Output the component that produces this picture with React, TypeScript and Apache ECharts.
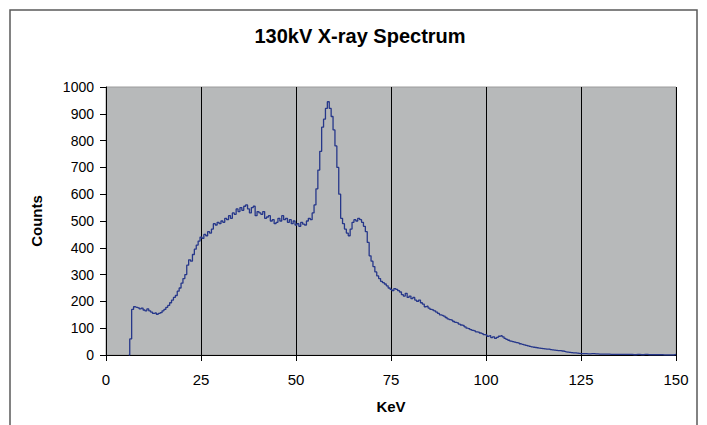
import React, { useEffect, useRef } from "react";
import * as echarts from "echarts";

const TITLE = "130kV X-ray Spectrum";
const X_NAME = "KeV";
const Y_NAME = "Counts";

const keV: number[] = [
  6, 6.5, 7, 7.5, 8, 8.5, 9, 9.5, 10, 10.5, 11, 11.5, 12, 12.5, 13, 13.5, 14, 14.5, 15, 15.5,
  16, 16.5, 17, 17.5, 18, 18.5, 19, 19.5, 20, 20.5, 21, 21.5, 22, 22.5, 23, 23.5, 24, 24.5, 25, 25.5,
  26, 26.5, 27, 27.5, 28, 28.5, 29, 29.5, 30, 30.5, 31, 31.5, 32, 32.5, 33, 33.5, 34, 34.5, 35, 35.5,
  36, 36.5, 37, 37.5, 38, 38.5, 39, 39.5, 40, 40.5, 41, 41.5, 42, 42.5, 43, 43.5, 44, 44.5, 45, 45.5,
  46, 46.5, 47, 47.5, 48, 48.5, 49, 49.5, 50, 50.5, 51, 51.5, 52, 52.5, 53, 53.5, 54, 54.5, 55, 55.5,
  56, 56.5, 57, 57.5, 58, 58.5, 59, 59.5, 60, 60.5, 61, 61.5, 62, 62.5, 63, 63.5, 64, 64.5, 65, 65.5,
  66, 66.5, 67, 67.5, 68, 68.5, 69, 69.5, 70, 70.5, 71, 71.5, 72, 72.5, 73, 73.5, 74, 74.5, 75, 75.5,
  76, 76.5, 77, 77.5, 78, 78.5, 79, 79.5, 80, 80.5, 81, 81.5, 82, 82.5, 83, 83.5, 84, 84.5, 85, 85.5,
  86, 86.5, 87, 87.5, 88, 88.5, 89, 89.5, 90, 90.5, 91, 91.5, 92, 92.5, 93, 93.5, 94, 94.5, 95, 95.5,
  96, 96.5, 97, 97.5, 98, 98.5, 99, 99.5, 100, 100.5, 101, 101.5, 102, 102.5, 103, 103.5, 104, 104.5, 105, 105.5,
  106, 106.5, 107, 107.5, 108, 108.5, 109, 109.5, 110, 110.5, 111, 111.5, 112, 112.5, 113, 113.5, 114, 114.5, 115, 115.5,
  116, 116.5, 117, 117.5, 118, 118.5, 119, 119.5, 120, 120.5, 121, 121.5, 122, 122.5, 123, 123.5, 124, 124.5, 125, 126,
  127, 128, 129, 130, 131, 132, 133, 134, 135, 136, 137, 138, 139, 140, 141, 142, 143, 144, 145, 146,
  147, 148, 149, 150,
];

const counts: number[] = [
  0, 60, 170, 180, 178, 176, 172, 175, 168, 165, 172, 165, 160, 155, 157, 152, 155, 158, 165, 170,
  178, 185, 195, 205, 215, 222, 238, 250, 268, 285, 300, 335, 355, 350, 375, 395, 410, 425, 440, 435,
  450, 445, 460, 455, 470, 490, 485, 495, 490, 500, 495, 510, 505, 520, 510, 530, 525, 545, 535, 550,
  540, 555, 560, 545, 530, 550, 555, 520, 535, 530, 525, 535, 510, 515, 520, 500, 505, 490, 495, 510,
  500, 520, 505, 510, 495, 505, 490, 500, 485, 490, 480, 495, 488, 485, 500, 510, 505, 530, 560, 620,
  690, 760, 850, 880, 920, 945, 920, 890, 840, 780, 700, 600, 510, 490, 470, 455, 445, 470, 495, 505,
  500, 510, 505, 495, 480, 460, 420, 370, 350, 330, 310, 295, 285, 275, 270, 265, 258, 250, 245, 240,
  248, 245, 240, 235, 225, 220, 230, 215, 220, 210, 215, 205, 200, 205, 195, 190, 180, 182, 175, 170,
  168, 165, 160, 155, 150, 148, 145, 140, 135, 132, 130, 125, 122, 120, 115, 112, 110, 105, 100, 98,
  95, 92, 90, 86, 85, 82, 80, 76, 75, 70, 72, 65, 68, 62, 66, 70, 72, 68, 62, 58,
  55, 52, 50, 48, 46, 45, 42, 40, 38, 36, 34, 32, 30, 29, 28, 27, 26, 25, 24, 23,
  22, 22, 20, 19, 18, 17, 16, 16, 15, 14, 12, 11, 10, 9, 8, 8, 7, 6, 5, 5,
  4, 5, 4, 3, 3, 3, 2, 2, 2, 2, 2, 2, 1, 2, 1, 2, 1, 1, 1, 1,
  0, 0, 0, 2,
];

const FONT = "Arial, 'Liberation Sans', sans-serif";

export default function App() {
  const ref = useRef<HTMLDivElement>(null);

  useEffect(() => {
    if (!ref.current) return;
    const chart = echarts.init(ref.current, undefined, { renderer: "svg" });
    const data = keV.map((k, i) => [k, counts[i]]);
    chart.setOption({
      animation: false,
      backgroundColor: "#ffffff",
      title: {
        text: TITLE,
        left: 355,
        top: 21,
        textAlign: "center",
        textStyle: { fontFamily: FONT, fontSize: 20, fontWeight: "bold", color: "#000" },
      },
      graphic: [
        {
          type: "rect",
          shape: { x: 10, y: 10, width: 687, height: 440 },
          style: { fill: "none", stroke: "#5a5a5a", lineWidth: 1.5 },
          silent: true,
        },
      ],
      grid: {
        left: 106,
        right: 31,
        top: 87,
        bottom: 70,
        show: true,
        backgroundColor: "#B7B9BA",
        borderColor: "#9c9c9c",
        borderWidth: 1,
      },
      xAxis: {
        type: "value",
        min: 0,
        max: 150,
        interval: 25,
        name: X_NAME,
        nameLocation: "middle",
        nameGap: 44,
        nameTextStyle: { fontFamily: FONT, fontSize: 15, fontWeight: "bold", color: "#000" },
        axisLine: { show: true, lineStyle: { color: "#000", width: 1 } },
        axisTick: { show: true, inside: false, length: 6, lineStyle: { color: "#000" } },
        axisLabel: { fontFamily: FONT, fontSize: 15, color: "#000", margin: 17 },
        splitLine: { show: true, lineStyle: { color: "#000", width: 1 } },
      },
      yAxis: {
        type: "value",
        min: 0,
        max: 1000,
        interval: 100,
        name: Y_NAME,
        nameLocation: "middle",
        nameGap: 62,
        nameRotate: 90,
        nameTextStyle: { fontFamily: FONT, fontSize: 15, fontWeight: "bold", color: "#000" },
        axisLine: { show: true, lineStyle: { color: "#000", width: 1 } },
        axisTick: { show: true, inside: false, length: 6, lineStyle: { color: "#000" } },
        axisLabel: {
          fontFamily: FONT,
          fontSize: 14,
          color: "#000",
          margin: 12,
          formatter: (v: number) => String(v),
        },
        splitLine: { show: false },
      },
      series: [
        {
          type: "line",
          data,
          step: "middle",
          showSymbol: false,
          symbol: "none",
          lineStyle: { color: "#26378A", width: 1.3 },
          clip: true,
        },
      ],
    });
    return () => chart.dispose();
  }, []);

  return (
    <div
      ref={ref}
      style={{ position: "fixed", left: 0, top: 0, width: 707, height: 425 }}
    />
  );
}
